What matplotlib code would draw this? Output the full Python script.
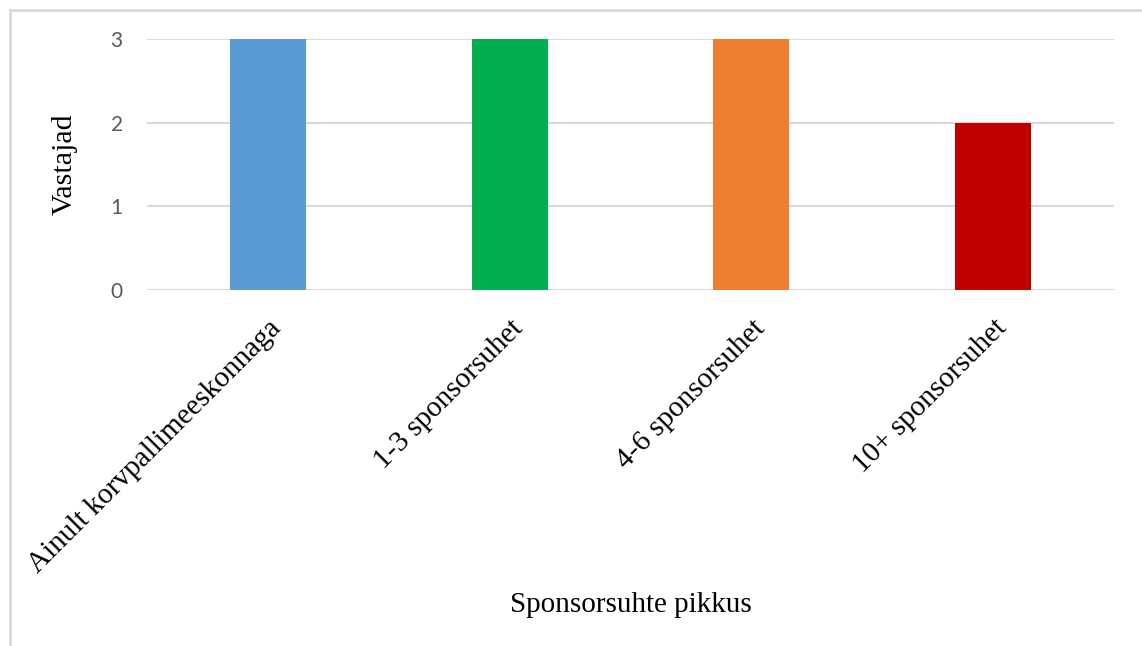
import matplotlib.pyplot as plt
from matplotlib.lines import Line2D

categories = ["Ainult korvpallimeeskonnaga", "1-3 sponsorsuhet",
              "4-6 sponsorsuhet", "10+ sponsorsuhet"]
values = [3, 3, 3, 2]
colors = ["#5B9BD5", "#00B050", "#ED7D31", "#C00000"]
yticks = [0, 1, 2, 3]

fig = plt.figure(figsize=(11.42, 6.46), dpi=100)
ax = fig.add_axes([0.1287, 0.5511, 0.8468, 0.3885])

x = range(len(categories))
ax.bar(x, values, width=0.314, color=colors, zorder=3)

ax.set_xlim(-0.5, len(categories) - 0.5)
ax.set_ylim(0, 3)
ax.set_yticks(yticks)
ax.set_yticklabels([str(t) for t in yticks], family="Lato", fontsize=15, color="#595959")
ax.set_xticks(list(x))
ax.set_xticklabels(categories, family="Liberation Serif", fontsize=21,
                   rotation=45, ha="right", rotation_mode="anchor")
ax.tick_params(length=0)
ax.tick_params(axis="y", pad=17.5)
ax.tick_params(axis="x", pad=18)
ax.grid(axis="y", color="#d9d9d9", linewidth=1.5, zorder=0)
for s in ax.spines.values():
    s.set_visible(False)

ax.set_ylabel("Vastajad", family="Liberation Serif", fontsize=21.5)
ax.yaxis.set_label_coords(-0.0715, 0.5)
fig.text(0.552, 0.063, "Sponsorsuhte pikkus", family="Liberation Serif",
         fontsize=21, ha="center", va="center")

# light frame around the chart
fig.add_artist(Line2D([0.0088, 0.0088], [0, 0.985], transform=fig.transFigure,
                      color="#d9d9d9", linewidth=2))
fig.add_artist(Line2D([0.0088, 1], [0.985, 0.985], transform=fig.transFigure,
                      color="#d9d9d9", linewidth=2))

fig.savefig("out.png", dpi=100)
